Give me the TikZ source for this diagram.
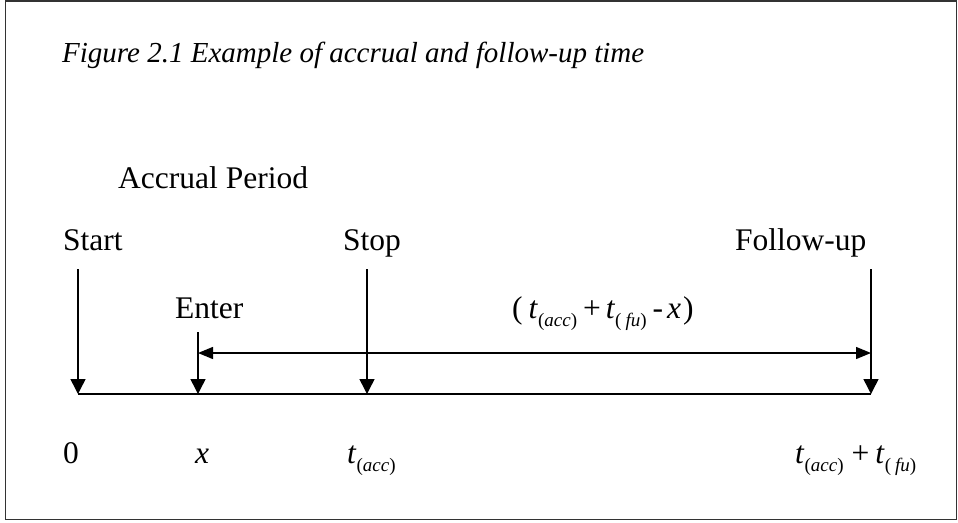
\documentclass[tikz,border=0pt]{standalone}
\usepackage{fontspec}
\setmainfont{Liberation Serif}
\usetikzlibrary{arrows.meta}
\newcommand{\tsb}[1]{\textit{t}\raisebox{-8pt}{\fontsize{19}{19}\selectfont(#1)}}
\begin{document}
\begin{tikzpicture}[x=1pt,y=-1pt,
 lbl/.style={anchor=base west, inner sep=0pt, font=\fontsize{31.5}{36}\selectfont},
 ttl/.style={anchor=base west, inner sep=0pt, font=\fontsize{29}{34}\selectfont\itshape},
 marker/.style={line width=1.5pt, -{Triangle[length=15pt,width=15pt]}},
 span/.style={line width=1.3pt, {Triangle[length=15pt,width=12pt]}-{Triangle[length=15pt,width=12pt]}},
 axis/.style={line width=2.2pt},
 frame/.style={line width=1.6pt, draw=black!80}]
\useasboundingbox (0,0) rectangle (958,522);
\draw[frame] (5.5,1) rectangle (956.5,519.5);
% coordinates
\coordinate (s0) at (78,394);
\coordinate (e0) at (198,394);
\coordinate (p0) at (367,394);
\coordinate (f0) at (871,394);
\coordinate (s1) at (78,269);
\coordinate (e1) at (198,332);
\coordinate (p1) at (367,269);
\coordinate (f1) at (871,269);
\coordinate (e2) at (198,353);
\coordinate (f2) at (871,353);
% axis and arrows
\draw[axis] (s0) -- (f0);
\draw[marker] (s1) -- (s0);
\draw[marker] (e1) -- (e0);
\draw[marker] (p1) -- (p0);
\draw[marker] (f1) -- (f0);
\draw[span] (e2) -- (f2);
% labels
\node[ttl] (title) at (62,62) {Figure 2.1 Example of accrual and follow-up time};
\node[lbl] (accp) at (118,188) {Accrual Period};
\node[lbl] (start) at (63,250) {Start};
\node[lbl] (stop) at (343,250) {Stop};
\node[lbl] (fu) at (735,250) {Follow-up};
\node[lbl] (enter) at (175,318) {Enter};
\node[lbl] (formula) at (512,318) {(\hspace{6pt}\tsb{\textit{acc}}\hspace{6pt}+\hspace{5pt}\tsb{\hspace{4pt}\textit{fu}}\hspace{6pt}-\hspace{4pt}\textit{x}\hspace{2pt})};
\node[lbl] (zero) at (63,463) {0};
\node[lbl] (xl) at (195,463) {\textit{x}};
\node[lbl] (ta) at (347,463) {\tsb{\textit{acc}}};
\node[lbl] (taf) at (795,463) {\tsb{\textit{acc}}\hspace{8pt}+\hspace{6pt}\tsb{\hspace{4pt}\textit{fu}}};
\end{tikzpicture}
\end{document}
